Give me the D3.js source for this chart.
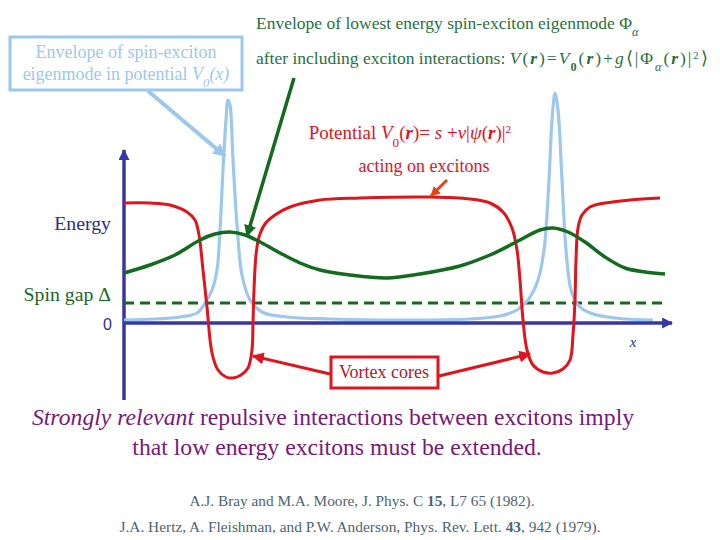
<!DOCTYPE html>
<html>
<head>
<meta charset="utf-8">
<script src="https://cdn.jsdelivr.net/npm/d3@7/dist/d3.min.js"></script>
<style>
  body { margin: 0; background: #fff; }
</style>
</head>
<body>
<div id="chart"></div>
<script>
// x in arbitrary position units, energy in units of the spin gap
const spinGap = 1;

const potentialX = [0, 5.2, 9.2, 12.6, 14.2, 15.0, 15.8, 16.6, 17.6, 18.8, 20.4, 21.8, 23.4, 24.8, 25.6, 25.8, 26.0, 26.4, 27.0, 28.2, 30.2, 33.2, 39.2, 47.2, 61.2, 69.2, 73.2, 75.8, 77.6, 78.6, 79.2, 79.8, 80.6, 81.8, 83.8, 85.8, 87.8, 89.2, 89.8, 90.2, 90.4, 90.8, 91.6, 93.2, 96.2, 101.2, 107.2];
const potentialE = [6.0, 6.0, 5.9, 5.55, 5.15, 4.4, 2.65, 0.8, -1.5, -2.35, -2.7, -2.75, -2.6, -2.25, -1.35, 0, 1.65, 3.4, 4.3, 4.95, 5.4, 5.8, 6.15, 6.25, 6.3, 6.2, 6.0, 5.55, 4.75, 3.65, 2.15, 0.15, -1.35, -2.1, -2.45, -2.5, -2.3, -1.85, -0.6, 1.15, 3.15, 4.75, 5.4, 5.8, 6.0, 6.15, 6.25];

const lowestX = [0, 5.2, 10.2, 15.2, 18.2, 21.2, 24.2, 27.6, 31.2, 35.2, 39.2, 45.2, 52.6, 59.2, 67.2, 73.2, 79.2, 83.2, 85.8, 88.8, 92.2, 96.2, 100.2, 104.2, 108.2];
const lowestE = [2.5, 2.9, 3.4, 4.15, 4.45, 4.55, 4.4, 4.0, 3.5, 3.0, 2.65, 2.4, 2.25, 2.45, 2.85, 3.4, 4.15, 4.65, 4.75, 4.55, 4.05, 3.3, 2.75, 2.55, 2.45];

const bareX = [0, 6.2, 11.2, 14.6, 16.2, 17.6, 18.6, 19.2, 19.8, 20.4, 20.8, 21.2, 21.8, 22.6, 23.6, 25.2, 27.6, 32.6, 41.2, 55.2, 69.2, 75.2, 78.6, 80.8, 82.8, 84.0, 85.0, 85.6, 86.2, 86.8, 87.6, 88.4, 89.4, 90.8, 93.2, 98.2, 105.8];
const bareE = [0.15, 0.2, 0.3, 0.5, 1.0, 1.65, 2.65, 4.65, 7.65, 10.15, 11.15, 10.9, 8.15, 4.9, 2.4, 1.15, 0.55, 0.3, 0.2, 0.15, 0.2, 0.35, 0.65, 1.15, 2.15, 3.65, 7.15, 10.15, 11.5, 10.65, 7.15, 3.65, 1.65, 0.9, 0.5, 0.25, 0.15];

const xAxisMax = 109.6;
const yAxisRange = [-3.85, 8.65];
const gapLineEnd = 108;

const W = 720, H = 540;
const x = d3.scaleLinear().domain([0, 110]).range([124, 674]);
const y = d3.scaleLinear().domain([0, 1]).range([323, 303]);

const cRed = "#e0141c", cGreen = "#146a1e", cBlue = "#9cc8ee", cAxis = "#3636a6";
const cText = "#2e2e86", cPurple = "#7a1878", cRef = "#4e6470", cGreenTxt = "#2a7040";
const serif = "Liberation Serif";

const svg = d3.select("#chart").append("svg").attr("width", W).attr("height", H);
const defs = svg.append("defs");
function marker(id, color, size) {
  defs.append("marker").attr("id", id)
    .attr("viewBox", "0 0 10 10").attr("refX", 9).attr("refY", 5)
    .attr("markerWidth", size).attr("markerHeight", size)
    .attr("markerUnits", "userSpaceOnUse").attr("orient", "auto")
    .append("path").attr("d", "M0,0 L10,5 L0,10 Z").attr("fill", color);
}
marker("arAxis", cAxis, 11);
marker("arGreen", cGreen, 12);
marker("arRed", cRed, 12);
marker("arBlue", cBlue, 13);
marker("arOrange", "#e04418", 10);

const line = d3.line().x(d => x(d[0])).y(d => y(d[1])).curve(d3.curveCatmullRom.alpha(0.5));
const zip = (a, b) => a.map((v, i) => [v, b[i]]);

function txt(px, py, size, color, anchor) {
  return svg.append("text").attr("x", px).attr("y", py)
    .attr("font-size", size).attr("fill", color)
    .attr("text-anchor", anchor || "start")
    .attr("font-family", serif);
}

// y axis
svg.append("line").attr("x1", x(0)).attr("x2", x(0))
  .attr("y1", y(yAxisRange[0])).attr("y2", y(yAxisRange[1]))
  .attr("stroke", cAxis).attr("stroke-width", 3.5).attr("marker-end", "url(#arAxis)");

// spin gap dashed line
svg.append("line").attr("x1", x(0)).attr("x2", x(gapLineEnd))
  .attr("y1", y(spinGap)).attr("y2", y(spinGap))
  .attr("stroke", cGreen).attr("stroke-width", 3).attr("stroke-dasharray", "10,6");

// bare envelope (light blue)
svg.append("path").attr("d", line(zip(bareX, bareE)))
  .attr("fill", "none").attr("stroke", cBlue).attr("stroke-width", 3.2);

// x axis
svg.append("line").attr("x1", x(0)).attr("x2", x(xAxisMax))
  .attr("y1", y(0)).attr("y2", y(0))
  .attr("stroke", cAxis).attr("stroke-width", 3.5).attr("marker-end", "url(#arAxis)");

// potential (red)
svg.append("path").attr("d", line(zip(potentialX, potentialE)))
  .attr("fill", "none").attr("stroke", cRed).attr("stroke-width", 3);

// lowest mode envelope (green)
svg.append("path").attr("d", line(zip(lowestX, lowestE)))
  .attr("fill", "none").attr("stroke", cGreen).attr("stroke-width", 3.5);

// axis labels
txt(111, 230, 19.8, cText, "end").text("Energy");
txt(111, 301, 19.8, cGreen, "end").text("Spin gap \u0394");
txt(112, 330, 16, cText, "end").attr("font-family", "Liberation Sans").text("0");
txt(633, 347, 15, cText, "middle").attr("font-style", "italic").text("x");

// helper for rich text
function rich(t, parts) {
  parts.forEach(p => {
    const s = t.append("tspan").text(p.t);
    if (p.i) s.attr("font-style", "italic");
    if (p.b) s.attr("font-weight", "bold");
    if (p.ls) s.attr("letter-spacing", p.ls);
    if (p.sub) s.attr("baseline-shift", "sub").attr("font-size", "70%");
    if (p.sup) s.attr("baseline-shift", "super").attr("font-size", "60%");
  });
  return t;
}

// blue callout box
svg.append("rect").attr("x", 10).attr("y", 37).attr("width", 232).attr("height", 53)
  .attr("fill", "#fff").attr("stroke", cBlue).attr("stroke-width", 3);
txt(126, 58, 18, cBlue, "middle").text("Envelope of spin-exciton");
rich(txt(126, 80, 18, cBlue, "middle"),
  [{t: "eigenmode in potential "}, {t: "V", i: 1}, {t: "0", i: 1, sub: 1}, {t: "(x)", i: 1}]);
svg.append("line").attr("x1", 148).attr("y1", 91).attr("x2", 225).attr("y2", 156)
  .attr("stroke", cBlue).attr("stroke-width", 4).attr("marker-end", "url(#arBlue)");

// green annotation
rich(txt(256, 29, 17.5, cGreenTxt),
  [{t: "Envelope of lowest energy spin-exciton eigenmode \u03a6"}, {t: "\u03b1", i: 1, sub: 1}]);
rich(txt(256, 64, 17.5, cGreenTxt),
  [{t: "after including exciton interactions: "}, {t: "V", i: 1, ls: 2}, {t: "(", ls: 2}, {t: "r", i: 1, b: 1, ls: 2}, {t: ")=", ls: 2},
   {t: "V", i: 1, ls: 1}, {t: "0", b: 1, sub: 1, ls: 2}, {t: "(", ls: 2}, {t: "r", i: 1, b: 1, ls: 2}, {t: ")+", ls: 2}, {t: "g", i: 1, ls: 2},
   {t: "\u27e8|\u03a6", ls: 2}, {t: "\u03b1", i: 1, sub: 1, ls: 2}, {t: "(", ls: 2}, {t: "r", i: 1, b: 1, ls: 2}, {t: ")|", ls: 2}, {t: "2", sup: 1, ls: 2}, {t: "\u27e9"}]);
svg.append("line").attr("x1", 294).attr("y1", 78).attr("x2", 247).attr("y2", 236)
  .attr("stroke", cGreen).attr("stroke-width", 3.5).attr("marker-end", "url(#arGreen)");

// red annotation
rich(txt(410, 139, 19, cRed, "middle"),
  [{t: "Potential "}, {t: "V", i: 1}, {t: "0", sub: 1}, {t: "("}, {t: "r", i: 1, b: 1}, {t: ")= "},
   {t: "s", i: 1}, {t: " +"}, {t: "v", i: 1}, {t: "|"}, {t: "\u03c8", i: 1}, {t: "("}, {t: "r", i: 1, b: 1},
   {t: ")|"}, {t: "2", sup: 1}]);
txt(424, 172, 18, cRed, "middle").text("acting on excitons");
svg.append("line").attr("x1", 447).attr("y1", 180).attr("x2", 431).attr("y2", 196)
  .attr("stroke", "#e04418").attr("stroke-width", 3).attr("marker-end", "url(#arOrange)");

// vortex cores
svg.append("line").attr("x1", 330).attr("y1", 374).attr("x2", 253).attr("y2", 356)
  .attr("stroke", cRed).attr("stroke-width", 3).attr("marker-end", "url(#arRed)");
svg.append("line").attr("x1", 439).attr("y1", 376).attr("x2", 530).attr("y2", 354)
  .attr("stroke", cRed).attr("stroke-width", 3).attr("marker-end", "url(#arRed)");
svg.append("rect").attr("x", 331).attr("y", 357).attr("width", 107).attr("height", 31)
  .attr("fill", "#fff").attr("stroke", cRed).attr("stroke-width", 3);
txt(384, 378, 18, "#b01828", "middle").text("Vortex cores");

// conclusion
rich(txt(333, 425, 23.7, cPurple, "middle"),
  [{t: "Strongly relevant", i: 1}, {t: " repulsive interactions between excitons imply"}]);
txt(337, 455, 23.7, cPurple, "middle").text("that low energy excitons must be extended.");

// references
rich(txt(362, 506, 15.3, cRef, "middle"),
  [{t: "A.J. Bray and M.A. Moore, J. Phys. C "}, {t: "15", b: 1}, {t: ", L7 65 (1982)."}]);
rich(txt(360, 532, 15.4, cRef, "middle"),
  [{t: "J.A. Hertz, A. Fleishman, and P.W. Anderson, Phys. Rev. Lett. "}, {t: "43", b: 1}, {t: ", 942 (1979)."}]);
</script>
</body>
</html>
